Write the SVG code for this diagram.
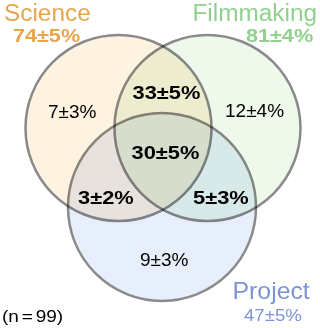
<svg xmlns="http://www.w3.org/2000/svg" width="320" height="328" viewBox="0 0 320 328">
<style>
.set{stroke:#8a8a8a;stroke-width:2.5;mix-blend-mode:multiply}
.title{font-family:"Liberation Sans",Arial,sans-serif;font-size:23px}
.pb{font-family:"Liberation Sans",Arial,sans-serif;font-size:19px;font-weight:bold}
.pr{font-family:"Liberation Sans",Arial,sans-serif;font-size:19px;fill:#000}
.cnt{fill:#000}
</style>
<rect width="320" height="328" fill="#ffffff"/>
<g id="science">
<circle class="set" cx="118.5" cy="128" r="93" fill="#fef2e0"/>
</g>
<g id="filmmaking">
<circle class="set" cx="207.5" cy="128" r="93" fill="#eef9ec"/>
</g>
<g id="project">
<circle class="set" cx="162" cy="207" r="94" fill="#e8effc"/>
</g>
<g id="connectors"/>
<g id="labels">
<text class="title" transform="translate(4 21) scale(1.06 1)" fill="#e9a54b">Science</text>
<text class="pb" transform="translate(13 42) scale(1.2 1)" style="font-size:18px" fill="#e9a54b">74±5%</text>
<text class="title" transform="translate(317 21) scale(1.06 1)" fill="#91d08e" text-anchor="end">Filmmaking</text>
<text class="pb" transform="translate(246 42) scale(1.2 1)" style="font-size:18px" fill="#91d08e">81±4%</text>
<text class="title" transform="translate(232.5 298.5) scale(1.08 1)" fill="#7c93d6">Project</text>
<text class="pr" transform="translate(244 320.5) scale(1.13 1)" style="font-size:16.5px;fill:#7c93d6">47±5%</text>
<text class="pr" transform="translate(2 321.5) scale(1.12 1)" style="font-size:17px">(n<tspan dx="2.5">=</tspan><tspan dx="2.5">99)</tspan></text>
</g>
<g id="regions">
<text class="pr" x="48" y="118">7±3%</text>
<text class="pr" x="225" y="117">12±4%</text>
<text class="pr" x="140" y="266">9±3%</text>
<text class="pb cnt" transform="translate(132.5 98.5) scale(1.15 1)">33±5%</text>
<text class="pb cnt" transform="translate(131.5 158.5) scale(1.15 1)">30±5%</text>
<text class="pb cnt" transform="translate(78 203.5) scale(1.15 1)">3±2%</text>
<text class="pb cnt" transform="translate(193 203.5) scale(1.15 1)">5±3%</text>
</g>
</svg>
